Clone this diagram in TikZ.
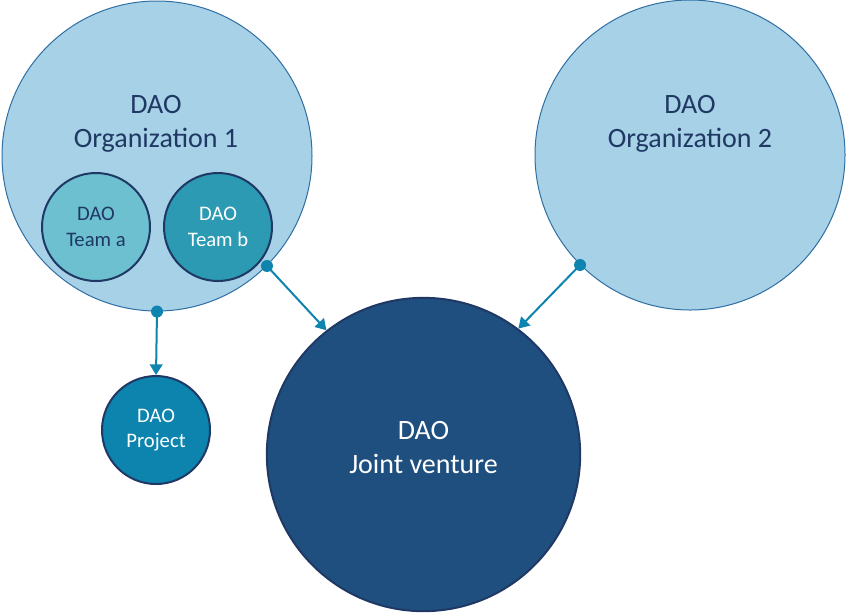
\documentclass[tikz,border=0pt]{standalone}
\usepackage{fontspec}
\setmainfont{Carlito}
\usetikzlibrary{arrows.meta}
\definecolor{orgfill}{HTML}{A6D1E6}
\definecolor{orgedge}{HTML}{2F6FA3}
\definecolor{navy}{HTML}{1F3864}
\definecolor{teamafill}{HTML}{6CC0CF}
\definecolor{teambfill}{HTML}{2B9AB2}
\definecolor{projfill}{HTML}{0C84AD}
\definecolor{jvfill}{HTML}{1E4F7F}
\definecolor{linkblue}{HTML}{0F84AE}

\begin{document}
\begin{tikzpicture}[x=0.75pt, y=-0.75pt,
      dao/.style={circle, draw=navy, line width=1.5pt, align=center,
                  inner sep=0pt, text=navy},
      big/.style={font=\fontsize{21}{25.5}\selectfont, align=center},
      small/.style={font=\fontsize{15.5}{19}\selectfont},
      link/.style={-{Triangle[length=8pt,width=9.5pt]}, line width=1.5pt, draw=linkblue},
      dot/.style={circle, fill=linkblue, inner sep=0pt, minimum size=9pt}]
  \useasboundingbox (0,0) rectangle (848,612);

  % large organisations
  \node[dao, fill=orgfill, draw=orgedge, line width=0.75pt, minimum size=232.5pt] (org1) at (157,156) {};
  \node[dao, fill=orgfill, draw=orgedge, line width=0.75pt, minimum size=232.5pt] (org2) at (690,155) {};
  \node[big, text=navy] (org1text) at (156,124) {DAO\\Organization 1};
  \node[big, text=navy] (org2text) at (690,124) {DAO\\Organization 2};

  % teams inside organisation 1
  \node[dao, small, fill=teamafill, minimum size=81pt] (teama) at (96,227) {DAO\\Team a};
  \node[dao, small, fill=teambfill, text=white, minimum size=81pt] (teamb) at (218,227) {DAO\\Team b};

  % project and joint venture
  \node[dao, small, fill=projfill, text=white, minimum size=81pt] (proj) at (156,430) {DAO\\Project};
  \node[dao, fill=jvfill, minimum size=235pt] (jv) at (423.5,454.5) {};
  \node[big, text=white] (jvtext) at (423.5,448) {DAO\\Joint venture};

  % connectors
  \draw[link] (org1.south) -- (proj.north);
  \draw[link] (org1.-45) -- (jv.128);
  \draw[link] (org2.225) -- (jv.53);
  \node[dot] (dot1) at (org1.south) {};
  \node[dot] (dot2) at (org1.-45) {};
  \node[dot] (dot3) at (org2.225) {};
\end{tikzpicture}
\end{document}
